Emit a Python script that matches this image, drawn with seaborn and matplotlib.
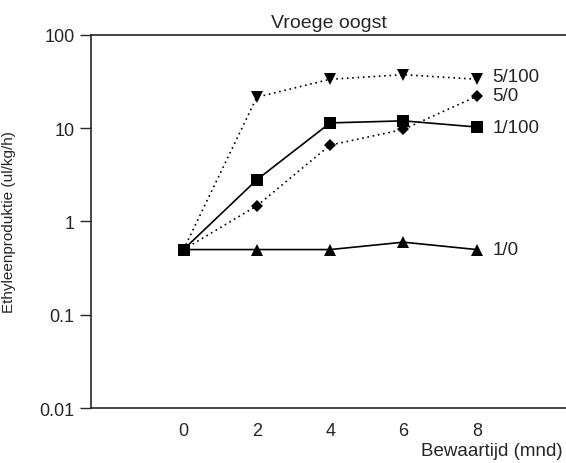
import pandas as pd
import numpy as np
import seaborn as sns
import matplotlib
matplotlib.use("Agg")
import matplotlib.pyplot as plt

# Bewaartijd (mnd)
months = [0, 2, 4, 6, 8]

# ethyleenproductie per behandeling
eth_5_100 = [0.5, 21.5, 33.5, 37.5, 33.5]
eth_5_0 = [0.5, 1.47, 6.6, 9.7, 22.0]
eth_1_100 = [0.5, 2.8, 11.4, 12.0, 10.3]
eth_1_0 = [0.5, 0.5, 0.5, 0.6, 0.5]

series_names = ["5/100", "5/0", "1/100", "1/0"]
series_vals = [eth_5_100, eth_5_0, eth_1_100, eth_1_0]

# build long table
rows = []
for name, vals in zip(series_names, series_vals):
    for m, v in zip(months, vals):
        rows.append({"maand": m, "ethyleen": v, "behandeling": name})
df = pd.DataFrame(rows)

sns.set_style("ticks")
plt.rcParams['font.family'] = ['Liberation Sans', 'DejaVu Sans']

fig = plt.figure(figsize=(5.66, 4.64), dpi=100)
ax = fig.add_axes([0.161, 0.1185, 0.84, 0.804])

markers = {"5/100": "v", "5/0": "D", "1/100": "s", "1/0": "^"}
dashes = {"5/100": (1, 2.2), "5/0": (1, 2.2), "1/100": "", "1/0": ""}
palette = {n: "black" for n in series_names}

sns.lineplot(data=df, x="maand", y="ethyleen", hue="behandeling", style="behandeling",
             markers=markers, dashes=dashes, palette=palette, ax=ax,
             linewidth=1.2, markersize=8.5, markeredgewidth=0, legend=False)
# diamonds a bit smaller
for ln in ax.lines:
    if ln.get_marker() == "D":
        ln.set_markersize(6.5)

ax.set_yscale("log")
ax.set_ylim(0.01, 100)
ax.set_xlim(-2.52, 10.45)
ax.set_yticks([0.01, 0.1, 1, 10, 100])
ax.set_yticklabels(["0.01", "0.1", "1", "10", "100"])
ax.minorticks_off()
ax.set_xticks(months)
ax.tick_params(axis="x", length=0, pad=10, labelsize=13)
ax.tick_params(axis="y", length=8, width=1, direction="out", labelsize=13, pad=4)
for s in ax.spines.values():
    s.set_linewidth(1.2)
    s.set_visible(True)

# series labels at the right
label_y = {"5/100": 36, "5/0": 22.2, "1/100": 10.3, "1/0": 0.5}
for name in series_names:
    ax.text(8.42, label_y[name], name, fontsize=13.5, va="center", ha="left")

ax.set_title("Vroege oogst", fontsize=14, pad=6)
ax.set_xlabel("")
ax.set_ylabel("Ethyleenproduktie (ul/kg/h)", fontsize=11)
ax.yaxis.set_label_coords(-0.157, 0.5)
fig.text(421 / 566, 1 - 452 / 464, "Bewaartijd (mnd)", fontsize=13.5, ha="left", va="center")

fig.savefig("out.png", dpi=100)
